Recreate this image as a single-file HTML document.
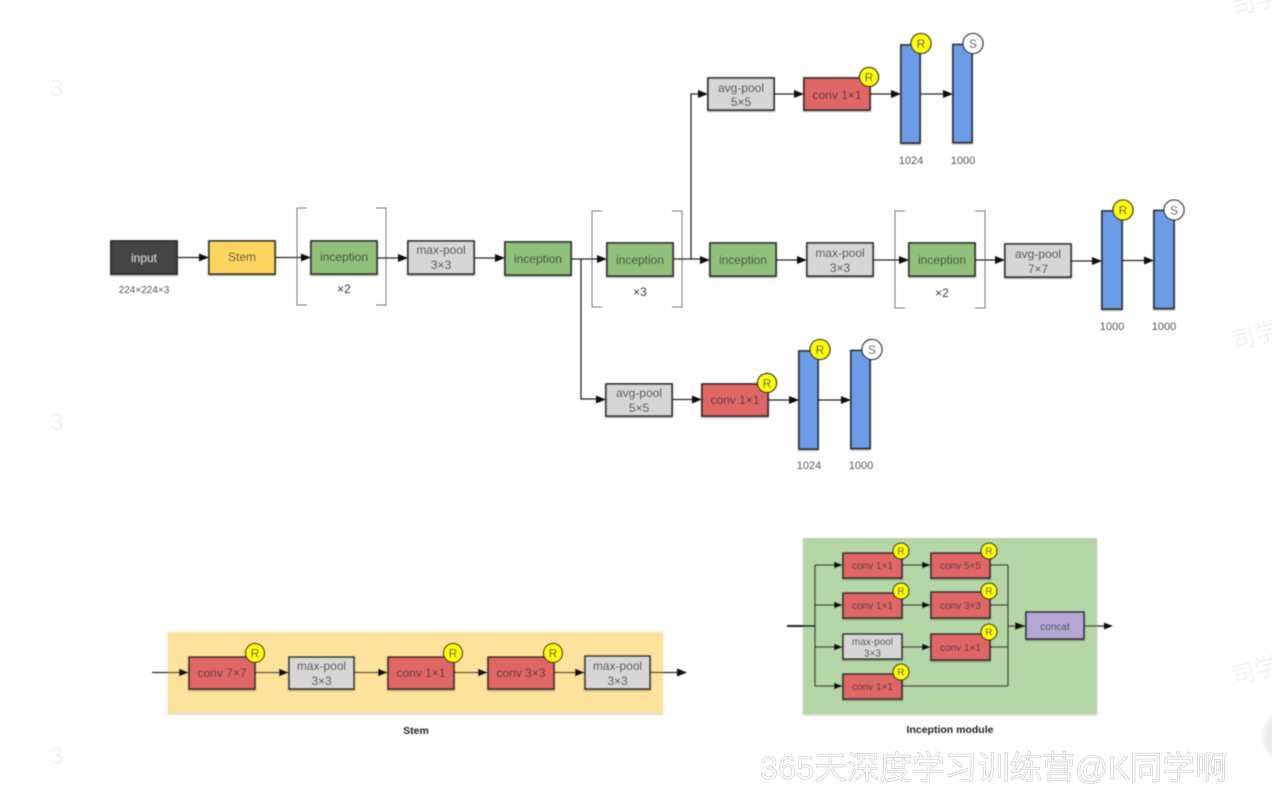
<!DOCTYPE html>
<html><head><meta charset="utf-8"><style>
html,body{margin:0;padding:0;background:#fff}
svg{display:block}
text{font-family:"Liberation Sans",sans-serif;text-anchor:middle;fill:#3a3a3a;font-size:12px}
.b{stroke:#2a2a2a;stroke-width:1.7;filter:url(#sh)}
.l{stroke:#222;stroke-width:1.3;fill:none}
.br{stroke:#777;stroke-width:1;fill:none}
.c{stroke:#222;stroke-width:1.3}
.h{fill:#111;stroke:none}
.d{fill:#555;font-size:11px}
.s{font-size:10px}
.t{font-weight:bold;fill:#222;font-size:10.5px}
.wm{font-family:"Liberation Sans","Noto Sans CJK SC",sans-serif;font-size:32.600px;fill:#fff;stroke:#c8c8c8;stroke-width:.6;text-anchor:start}
.wf{font-family:"Liberation Sans","Noto Sans CJK SC",sans-serif;font-size:24px;fill:#f3f3f3;text-anchor:start}
</style></head><body>
<svg xmlns="http://www.w3.org/2000/svg" width="1272" height="802" viewBox="0 0 1272 802">
<defs>
<filter id="sh" x="-10%" y="-10%" width="120%" height="125%"><feDropShadow dx="0" dy="1" stdDeviation="0.8" flood-color="#000" flood-opacity=".35"/></filter>
<filter id="bl"><feGaussianBlur stdDeviation="0.45"/></filter>
<filter id="bl2" x="-30%" y="-30%" width="160%" height="160%"><feGaussianBlur stdDeviation="2"/></filter>
</defs>
<rect width="1272" height="802" fill="#fff"/>
<circle cx="1292" cy="737" r="29" fill="#ececec" filter="url(#bl2)"/>
<text class="wf" x="1234" y="16" transform="rotate(-15 1234 16)">司学</text>
<text class="wf" x="1234" y="350" transform="rotate(-15 1234 350)">司学</text>
<text class="wf" x="1234" y="685" transform="rotate(-15 1234 685)">司学</text>
<text class="wf" x="50" y="96">3</text>
<text class="wf" x="50" y="430">3</text>
<text class="wf" x="50" y="764">3</text>
<g filter="url(#bl)">
<!-- panels -->
<rect x="168" y="632" width="495" height="81" fill="#fde29c" filter="url(#sh)"/>
<rect x="803" y="538" width="294" height="176" fill="#b5d6a6" filter="url(#sh)"/>

<!-- brackets -->
<path class="br" d="M307 208H297V305H307M376 208H386V305H376"/>
<path class="br" d="M602 211H592V307H602M672 211H682V307H672"/>
<path class="br" d="M905 211H895V308H905M975 211H985V308H975"/>

<!-- connectors main -->
<path class="l" d="M177 257.500H199M275 257.500H301M377 258H398M474 258H495M571 259H597M581 259V399H596M673 259H700M691 259V94H698M774 94H794M870 94H891M920 94H943M776 260H797M873 260H899M975 260H995M1071 261H1092M1122 260.500H1144M672 399.500H692M768 400H789M818 400H841"/>
<!-- connectors stem -->
<path class="l" d="M152 672.500H179M255 672.500H279M354 672.500H378M454 672.500H478M554 672.500H575M650 672.500H677"/>
<!-- connectors inception -->
<path class="l" d="M787 626H815" style="stroke-width:2"/>
<path class="l" d="M815 565V686M815 565H834M815 605H834M815 647H834M815 686H834M902 565H922M902 605H922M902 647H922M990 565H1008M990 605H1008M990 647H1008M902 686H1008M1008 565V686M1008 626H1017M1084 626H1104"/>
<!-- arrowheads -->
<path class="h" d="M209 257.500l-10-4v8zM311 257.500l-10-4v8zM408 258l-10-4v8zM505 258l-10-4v8zM607 259l-10-4v8zM710 260l-10-4v8zM708 94l-10-4v8zM804 94l-10-4v8zM901 94l-10-4v8zM953 94l-10-4v8zM807 260l-10-4v8zM909 260l-10-4v8zM1005 260l-10-4v8zM1102 261l-10-4v8zM1154 260.500l-10-4v8zM606 399.500l-10-4v8zM702 399.500l-10-4v8zM799 400l-10-4v8zM851 400l-10-4v8z"/>
<path class="h" d="M189 672.500l-10-4v8zM289 672.500l-10-4v8zM388 672.500l-10-4v8zM488 672.500l-10-4v8zM585 672.500l-10-4v8zM687 672.500l-10-4v8z"/>
<path class="h" d="M843 565l-9-3.500v7zM843 605l-9-3.500v7zM843 647l-9-3.500v7zM843 686l-9-3.500v7zM931 565l-9-3.500v7zM931 605l-9-3.500v7zM931 647l-9-3.500v7zM1026 626l-11-4v8zM1113 626l-9-3.500v7z"/>

<!-- main boxes -->
<rect class="b" x="111" y="241" width="66" height="33" fill="#444"/><text x="144" y="262" style="fill:#ccc">input</text>
<text class="d" x="144" y="293" style="font-size:10px">224×224×3</text>
<rect class="b" x="209" y="241" width="66" height="33" fill="#fdd55f"/><text x="242" y="261">Stem</text>
<rect class="b" x="311" y="241" width="66" height="33" fill="#8fc17a"/><text x="344" y="261">inception</text>
<text x="344" y="293">×2</text>
<rect class="b" x="408" y="241" width="66" height="33" fill="#d6d6d6"/><text x="441" y="254">max-pool</text><text x="441" y="269">3×3</text>
<rect class="b" x="505" y="242" width="66" height="33" fill="#8fc17a"/><text x="538" y="263">inception</text>
<rect class="b" x="607" y="243" width="66" height="33" fill="#8fc17a"/><text x="640" y="264">inception</text>
<text x="640" y="296">×3</text>
<rect class="b" x="710" y="243" width="66" height="33" fill="#8fc17a"/><text x="743" y="264">inception</text>
<rect class="b" x="807" y="243" width="66" height="33" fill="#d6d6d6"/><text x="840" y="257">max-pool</text><text x="840" y="272">3×3</text>
<rect class="b" x="909" y="243" width="66" height="33" fill="#8fc17a"/><text x="942" y="264">inception</text>
<text x="942" y="297">×2</text>
<rect class="b" x="1005" y="244" width="66" height="33" fill="#d6d6d6"/><text x="1038" y="258">avg-pool</text><text x="1038" y="273">7×7</text>
<rect class="b" x="1102" y="211" width="20" height="98" fill="#6b9ce8"/>
<rect class="b" x="1154" y="210.500" width="20" height="98" fill="#6b9ce8"/>
<circle class="c" cx="1123" cy="210" r="10" fill="#ffff00"/><text x="1123" y="214.500" style="font-size:12px">R</text>
<circle class="c" cx="1174" cy="210" r="10" fill="#fff"/><text x="1174" y="214.500" style="font-size:12px">S</text>
<text class="d" x="1112" y="330">1000</text><text class="d" x="1164" y="330">1000</text>

<!-- top branch -->
<rect class="b" x="708" y="78" width="66" height="32" fill="#d6d6d6"/><text x="741" y="92">avg-pool</text><text x="741" y="106">5×5</text>
<rect class="b" x="804" y="78" width="66" height="32" fill="#e06666"/><text x="837" y="99">conv 1×1</text>
<circle class="c" cx="869" cy="77" r="9.500" fill="#ffff00"/><text x="869" y="81.500">R</text>
<rect class="b" x="901" y="45" width="19" height="98" fill="#6b9ce8"/>
<rect class="b" x="953" y="44.500" width="19" height="98" fill="#6b9ce8"/>
<circle class="c" cx="921" cy="43.500" r="10" fill="#ffff00"/><text x="921" y="48">R</text>
<circle class="c" cx="973" cy="43.500" r="10" fill="#fff"/><text x="973" y="48">S</text>
<text class="d" x="911" y="164">1024</text><text class="d" x="963" y="164">1000</text>

<!-- lower branch -->
<rect class="b" x="606" y="384" width="66" height="32" fill="#d6d6d6"/><text x="639" y="397">avg-pool</text><text x="639" y="412">5×5</text>
<rect class="b" x="702" y="384" width="66" height="32" fill="#e06666"/><text x="735" y="404">conv 1×1</text>
<circle class="c" cx="767" cy="383" r="9.500" fill="#ffff00"/><text x="767" y="387.500">R</text>
<rect class="b" x="799" y="351" width="19" height="98" fill="#6b9ce8"/>
<rect class="b" x="851" y="350.500" width="19" height="98" fill="#6b9ce8"/>
<circle class="c" cx="820" cy="349.500" r="10" fill="#ffff00"/><text x="820" y="354">R</text>
<circle class="c" cx="872" cy="349.500" r="10" fill="#fff"/><text x="872" y="354">S</text>
<text class="d" x="809" y="469">1024</text><text class="d" x="861" y="469">1000</text>

<!-- stem -->
<rect class="b" x="189" y="657" width="66" height="32" fill="#e06666"/><text x="222" y="677">conv 7×7</text>
<circle class="c" cx="255" cy="653" r="9.500" fill="#ffff00"/><text x="255" y="657.500">R</text>
<rect class="b" x="289" y="657" width="65" height="32" fill="#d6d6d6"/><text x="321.500" y="670">max-pool</text><text x="321.500" y="685">3×3</text>
<rect class="b" x="388" y="657" width="66" height="32" fill="#e06666"/><text x="421" y="677">conv 1×1</text>
<circle class="c" cx="453" cy="653" r="9.500" fill="#ffff00"/><text x="453" y="657.500">R</text>
<rect class="b" x="488" y="657" width="66" height="32" fill="#e06666"/><text x="521" y="677">conv 3×3</text>
<circle class="c" cx="553" cy="653" r="9.500" fill="#ffff00"/><text x="553" y="657.500">R</text>
<rect class="b" x="585" y="656" width="65" height="33" fill="#d6d6d6"/><text x="617.500" y="670">max-pool</text><text x="617.500" y="685">3×3</text>
<text class="t" x="416" y="734">Stem</text>

<!-- inception module -->
<rect class="b" x="843" y="553" width="59" height="25" fill="#e06666"/><text class="s" x="872.500" y="569">conv 1×1</text>
<rect class="b" x="931" y="553" width="59" height="25" fill="#e06666"/><text class="s" x="960.500" y="569">conv 5×5</text>
<rect class="b" x="843" y="593" width="59" height="25" fill="#e06666"/><text class="s" x="872.500" y="609">conv 1×1</text>
<rect class="b" x="931" y="592" width="59" height="26" fill="#e06666"/><text class="s" x="960.500" y="609">conv 3×3</text>
<rect class="b" x="843" y="634" width="59" height="25" fill="#d6d6d6"/><text class="s" x="872.500" y="645">max-pool</text><text class="s" x="872.500" y="656.500">3×3</text>
<rect class="b" x="931" y="634" width="59" height="26" fill="#e06666"/><text class="s" x="960.500" y="651">conv 1×1</text>
<rect class="b" x="843" y="674" width="59" height="25" fill="#e06666"/><text class="s" x="872.500" y="690">conv 1×1</text>
<rect class="b" x="1026" y="612" width="58" height="27" fill="#b4a7d6"/><text class="s" x="1055" y="630">concat</text>
<g>
<circle class="c" cx="901" cy="551" r="8" fill="#ffff00"/><text class="s" x="901" y="554.500">R</text>
<circle class="c" cx="989" cy="551" r="8" fill="#ffff00"/><text class="s" x="989" y="554.500">R</text>
<circle class="c" cx="901" cy="591" r="8" fill="#ffff00"/><text class="s" x="901" y="594.500">R</text>
<circle class="c" cx="989" cy="591" r="8" fill="#ffff00"/><text class="s" x="989" y="594.500">R</text>
<circle class="c" cx="989" cy="632" r="8" fill="#ffff00"/><text class="s" x="989" y="635.500">R</text>
<circle class="c" cx="901" cy="672" r="8" fill="#ffff00"/><text class="s" x="901" y="675.500">R</text>
</g>
<text class="t" x="950" y="733">Inception module</text>
</g>
<text class="wm" x="760" y="779">365天深度学习训练营@K同学啊</text>
</svg>
</body></html>
